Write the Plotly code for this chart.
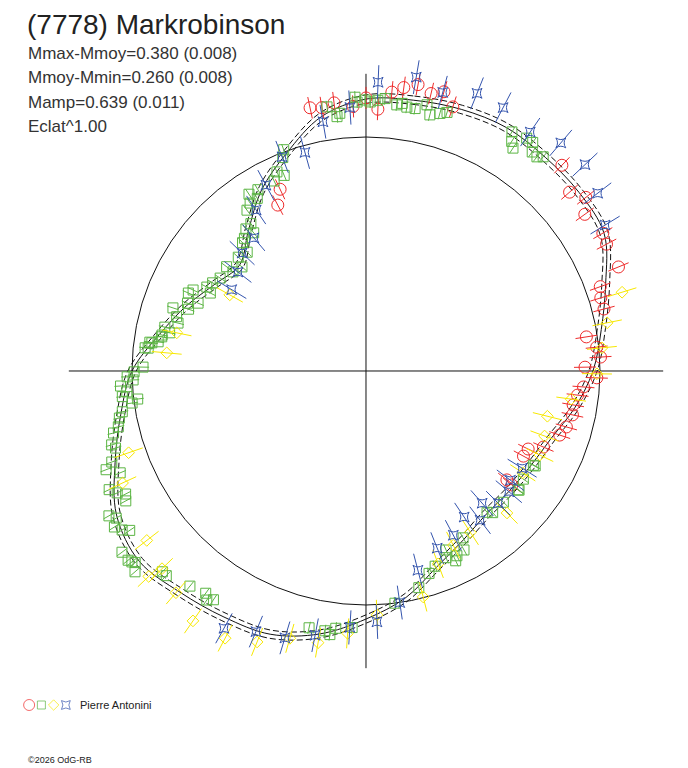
import plotly.graph_objects as go

# ---------------- data (phase in degrees, relative flux; reference circle = 1) ----------------
fit_phase = [0, 10, 20, 30, 40, 50, 60, 70, 80, 90, 100, 110, 120, 130, 140, 150, 160, 170,
             180, 190, 200, 210, 220, 230, 240, 250, 260, 270, 280, 290, 300, 310, 320, 330, 340, 350]
fit_flux = [1.162, 1.175, 1.190, 1.201, 1.192, 1.188, 1.175, 1.090, 1.021, 0.970, 0.906, 0.842,
            0.812, 0.799, 0.799, 0.833, 0.889, 0.983, 1.060, 1.141, 1.197, 1.214, 1.235, 1.265,
            1.231, 1.141, 1.064, 1.000, 0.897, 0.816, 0.744, 0.705, 0.782, 0.893, 0.991, 1.103]
fit_sigma = 0.018

red_phase = [348, 350.5, 353.2, 357.2, 0, 2.6, 5.3, 7.6, 10.3, 13.2, 15.6, 18.2, 43.6, 48.7, 51.7,
             54.4, 59.8, 62.2, 67.6, 70.2, 72.7, 75.4, 81.2, 84.1, 86.6, 89, 91.7, 94.2, 96.5,
             99.3, 102, 105.6, 108.3, 113.2, 115.7, 118.4, 127.7, 128, 334.7, 332]
red_flux = [1.150, 1.141, 1.154, 1.132, 1.167, 1.120, 1.197, 1.222, 1.244, 1.218, 1.239, 1.188,
            1.214, 1.158, 1.197, 1.150, 1.171, 1.162, 1.167, 1.064, 1.051, 1.051, 0.953, 0.991,
            1.004, 0.936, 0.987, 0.932, 0.910, 0.897, 0.902, 0.889, 0.872, 0.825, 0.769, 0.765,
            0.761, 0.791, 0.859, 0.803]
red_err = 0.047

green_phase = [351.6, 353.5, 354.2, 357.7, 358.1, 359.8, 0.9, 2.5, 4, 6.6, 7.7, 8.8, 10.6, 12.9,
               14, 16, 17.4, 31.4, 32.4, 33.4, 34.6, 36.1, 37.2, 38.6, 39.6,
               119.3, 124.5, 128, 119.4, 127.9, 133.7, 139.4, 138.2, 149.8, 155.9, 151.3, 153.8,
               154.7, 156.8, 160.5, 162.7, 166.3, 172.9,
               183.1, 186.7, 187.8, 189, 192.5, 213.7, 214.8, 215.8, 219.3, 224.3, 225.4, 229, 230.8,
               230.3, 231.5, 233.4, 236, 236.9, 238.2, 239.5, 240.6, 241.6, 242.9, 243.9, 245.2,
               247.5, 249.2, 250.3, 252.9, 253.8, 256.2, 257.3, 259.2, 260.5, 262.2, 263, 264,
               265, 266.5, 267.8, 268.6, 269.8, 271, 276, 277.5, 278, 279.5, 281,
               276, 277.6, 280, 282.3, 284.3, 286, 288.1, 289.2, 290.8, 292, 293.7, 295.1, 296.6,
               297.8, 299.9, 302.5, 306.7, 306.8, 310, 311.7, 315, 316.1, 317.5, 319.8, 320.9,
               322, 323.5, 325.4, 326.5, 327.8, 329.2, 334.2, 335.9, 337.3, 338.7, 339.6]
green_flux = [1.141, 1.094, 1.107, 1.171, 1.150, 1.158, 1.150, 1.158, 1.167, 1.145, 1.154, 1.141,
              1.141, 1.167, 1.128, 1.145, 1.158, 1.197, 1.162, 1.141, 1.209, 1.209, 1.175, 1.171,
              1.188,
              0.829, 0.816, 0.825, 0.821, 0.829, 0.812, 0.795, 0.812, 0.825, 0.838, 0.872, 0.880,
              0.897, 0.868, 0.885, 0.906, 0.953, 1.000,
              1.098, 1.107, 1.137, 1.124, 1.124, 1.175, 1.192, 1.171, 1.188, 1.222, 1.222, 1.308,
              1.291,
              1.282, 1.299, 1.299, 1.218, 1.244, 1.265, 1.239, 1.261, 1.167, 1.154, 1.184, 1.209,
              1.137, 1.188, 1.154, 1.120, 1.132, 1.111, 1.085, 1.073, 1.056, 1.009, 0.983, 1.047,
              1.026, 1.051, 0.996, 1.021, 0.991, 0.953, 0.936, 0.923, 0.897, 0.885, 0.855,
              0.949, 0.932, 0.885, 0.880, 0.829, 0.842, 0.868, 0.803, 0.816, 0.774, 0.829, 0.816,
              0.744, 0.769, 0.756, 0.739, 0.709, 0.744, 0.692, 0.731, 0.718, 0.761, 0.769, 0.795,
              0.761, 0.799, 0.855, 0.872, 0.906, 0.872, 0.902, 0.902, 0.932, 0.906, 0.979, 1.009]
green_err = 0.026

yellow_phase = [72.9, 78.7, 84.4, 90.7, 97.8, 104, 110, 115.8, 123, 135.2, 147.1, 153.4, 159.5,
                165.8, 177.4, 184, 190, 195.9, 201.9, 207.8, 214.7, 220.6, 226.6, 232.3, 225.9,
                245.3, 251, 275.2, 281.4, 299.2]
yellow_flux = [1.145, 1.051, 1.013, 0.987, 0.885, 0.799, 0.812, 0.825, 0.799, 0.855, 0.821,
               0.833, 0.880, 0.996, 1.043, 1.124, 1.179, 1.188, 1.248, 1.291, 1.299, 1.248, 1.278,
               1.184, 1.214, 1.145, 1.073, 0.855, 0.825, 0.667]
yellow_err = 0.064

blue_phase = [2.4, 9.7, 15.4, 21.8, 356.5, 350.2, 344.4, 27.5, 34.5, 40.5, 46.7, 52.5, 58.6,
              121.9, 127.1, 130.2, 135, 138.7, 142.6, 146.1, 152, 158.1, 165.4, 171.7, 177.5,
              183.6, 190.9, 196.9, 202.9, 208.9, 338.6, 331.7, 325.7, 319.9, 313.6, 307.7, 301.2]
blue_flux = [1.235, 1.274, 1.235, 1.278, 1.128, 1.081, 0.970, 1.269, 1.239, 1.282, 1.286, 1.248,
             1.197, 0.786, 0.774, 0.799, 0.799, 0.752, 0.803, 0.752, 0.795, 0.816, 0.880, 1.000,
             1.073, 1.098, 1.150, 1.192, 1.209, 1.256, 0.983, 0.902, 0.833, 0.744, 0.731, 0.692,
             0.671]
blue_err = 0.073

title_text = "(7778) Markrobinson"
info_lines = ["Mmax-Mmoy=0.380 (0.008)", "Mmoy-Mmin=0.260 (0.008)", "Mamp=0.639 (0.011)", "Eclat^1.00"]
observer = "Pierre Antonini"
footer = "©2026 OdG-RB"
axis_len = 1.27

# ---------------- styles ----------------
RED, GREEN, YELLOW, BLUE = "#ee2b2b", "#5cb544", "#f7e800", "#3454ad"
OFF = 8  # page body margin compensation

fig = go.Figure()

# axes cross
fig.add_trace(go.Scatterpolar(r=[axis_len, 0, axis_len], theta=[0, 0, 180], mode="lines",
                              line=dict(color="#111", width=1), hoverinfo="skip", showlegend=False))
fig.add_trace(go.Scatterpolar(r=[axis_len, 0, axis_len], theta=[90, 90, 270], mode="lines",
                              line=dict(color="#111", width=1), hoverinfo="skip", showlegend=False))

# fitted curve with band
cp = fit_phase + [fit_phase[0] + 360]
cf = fit_flux + [fit_flux[0]]
for off, dash in [(-fit_sigma, "6px,3px"), (fit_sigma, "6px,3px"), (0, "solid")]:
    fig.add_trace(go.Scatterpolar(r=[v + off for v in cf], theta=cp, mode="lines",
                                  line=dict(color="#111", width=1, dash=dash, shape="spline", smoothing=1),
                                  hoverinfo="skip", showlegend=False))

series = [
    (red_phase, red_flux, red_err, RED, "circle-open", 12),
    (green_phase, green_flux, green_err, GREEN, "square-open", 10),
    (yellow_phase, yellow_flux, yellow_err, YELLOW, "diamond-open", 9),
    (blue_phase, blue_flux, blue_err, BLUE, "star-square-open", 9),
]
for ph, fl, er, col, sym, sz in series:
    rr, tt = [], []
    for p, f in zip(ph, fl):
        rr += [f - er, f + er, None]
        tt += [p, p, None]
    fig.add_trace(go.Scatterpolar(r=rr, theta=tt, mode="lines", line=dict(color=col, width=1),
                                  hoverinfo="skip", showlegend=False, connectgaps=False))
    fig.add_trace(go.Scatterpolar(r=fl, theta=ph, mode="markers",
                                  marker=dict(symbol=sym, size=sz, color=col, line=dict(color=col, width=1)),
                                  showlegend=False))

# legend symbols
fig.add_trace(go.Scatter(x=[0, 1, 2, 3], y=[0, 0, 0, 0], mode="markers", xaxis="x", yaxis="y",
                         marker=dict(symbol=["circle-open", "square-open", "diamond-open", "star-square-open"],
                                     size=[11, 8, 8, 8], color=[RED, GREEN, YELLOW, BLUE],
                                     line=dict(width=1, color=[RED, GREEN, YELLOW, BLUE])),
                         showlegend=False, hoverinfo="skip"))

W, H = 688, 768
cx, cy, rad_max = 366 - OFF, 371 - OFF, 1.37
R_px = 234 * rad_max


def px(x):
    return (x - OFF) / W


def py(y):
    return 1 - (y - OFF) / H


fig.update_layout(
    width=W, height=H, margin=dict(l=0, r=0, t=0, b=0),
    paper_bgcolor="white", plot_bgcolor="white",
    polar=dict(
        domain=dict(x=[(cx - R_px) / W, (cx + R_px) / W], y=[1 - (cy + R_px) / H, 1 - (cy - R_px) / H]),
        bgcolor="white",
        angularaxis=dict(visible=False, rotation=90, direction="clockwise"),
        radialaxis=dict(range=[0, rad_max], showline=False, showticklabels=False, ticks="",
                        tickvals=[1], showgrid=True, gridcolor="#111", gridwidth=1),
    ),
    xaxis=dict(domain=[px(23), px(72)], range=[-0.5, 3.5], visible=False, fixedrange=True),
    yaxis=dict(domain=[py(712), py(698)], range=[-1, 1], visible=False, fixedrange=True),
    font=dict(family="Liberation Sans, Arial, sans-serif", color="#222"),
)

ann = [dict(text=title_text, x=px(25), y=py(25), font=dict(size=28, color="#222"))]
for i, t in enumerate(info_lines):
    ann.append(dict(text=t, x=px(26), y=py(53 + 24.5 * i), font=dict(size=17, color="#333")))
ann.append(dict(text=observer, x=px(78), y=py(705), font=dict(size=11, color="#222")))
ann.append(dict(text=footer, x=px(26), y=py(760), font=dict(size=9, color="#222")))
for a in ann:
    a.update(xref="paper", yref="paper", xanchor="left", yanchor="middle", showarrow=False)
fig.update_layout(annotations=ann)

fig.write_html("out.html")
